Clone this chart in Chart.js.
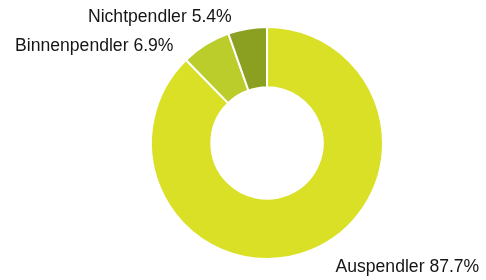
<!DOCTYPE html>
<html>
<head>
<meta charset="utf-8">
<script src="https://cdn.jsdelivr.net/npm/chart.js@4"></script>
<style>
html,body{margin:0;padding:0;background:#fff;}
#wrap{width:486px;height:280px;position:relative;}
</style>
</head>
<body>
<div id="wrap"><canvas id="c" width="486" height="280"></canvas></div>
<script>
const categories = ["Auspendler", "Binnenpendler", "Nichtpendler"];
const values = [87.7, 6.9, 5.4];
const colors = ["#d9e025", "#bacd2b", "#8b9f20"];

// label nudges relative to the slice's outer mid-point (style only)
const labelNudge = [[21, 12], [-27, 15], [-14, 3]];

const labelPlugin = {
  id: 'outLabels',
  afterDatasetsDraw(chart) {
    const ctx = chart.ctx;
    const meta = chart.getDatasetMeta(0);
    ctx.save();
    ctx.font = '17.6px "Liberation Sans", Arial, sans-serif';
    ctx.fillStyle = '#151515';
    ctx.textBaseline = 'alphabetic';
    meta.data.forEach((arc, i) => {
      const p = arc.getProps(['x', 'y', 'startAngle', 'endAngle', 'outerRadius'], true);
      const mid = (p.startAngle + p.endAngle) / 2;
      const r = p.outerRadius + 10;
      let x = p.x + Math.cos(mid) * r + labelNudge[i][0];
      let y = p.y + Math.sin(mid) * r + labelNudge[i][1];
      ctx.textAlign = Math.cos(mid) >= 0 ? 'left' : 'right';
      ctx.fillText(categories[i] + ' ' + values[i].toFixed(1) + '%', x, y);
    });
    ctx.restore();
  }
};

new Chart(document.getElementById('c'), {
  type: 'doughnut',
  data: {
    labels: categories,
    datasets: [{
      data: values,
      backgroundColor: colors,
      borderColor: '#ffffff',
      borderWidth: 2
    }]
  },
  options: {
    responsive: false,
    animation: false,
    cutout: '48%',
    layout: { padding: { left: 150, right: 102, top: 26, bottom: 20 } },
    plugins: { legend: { display: false }, tooltip: { enabled: false } }
  },
  plugins: [labelPlugin]
});
</script>
</body>
</html>
